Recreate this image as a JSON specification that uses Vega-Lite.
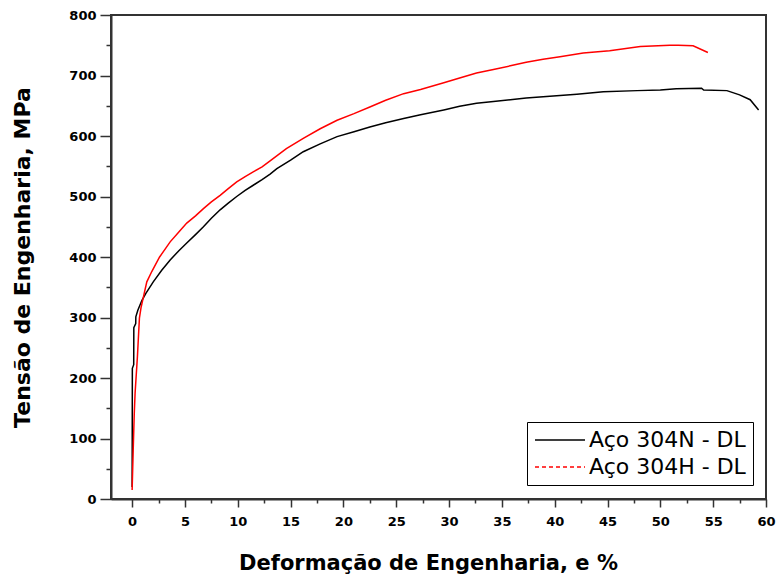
{
  "$schema": "https://vega.github.io/schema/vega-lite/v6.json",
  "width": 655,
  "height": 484,
  "autosize": "none",
  "padding": {"left": 111, "top": 15, "right": 10, "bottom": 80},
  "background": "white",
  "config": {
    "view": {"stroke": "#333", "strokeWidth": 2},
    "axis": {
      "domainColor": "#333",
      "domainWidth": 2,
      "tickColor": "#333",
      "tickWidth": 1.5,
      "grid": false,
      "labelFont": "DejaVu Sans",
      "labelFontWeight": "bold",
      "labelFontSize": 13,
      "labelColor": "#000",
      "titleFont": "DejaVu Sans",
      "titleFontWeight": "bold",
      "titleColor": "#000"
    }
  },
  "data": {
    "values": [
      {"e": 0.0, "s": 20, "series": "Aço 304N - DL"},
      {"e": 0.01, "s": 100, "series": "Aço 304N - DL"},
      {"e": 0.02, "s": 216, "series": "Aço 304N - DL"},
      {"e": 0.15, "s": 222, "series": "Aço 304N - DL"},
      {"e": 0.16, "s": 283, "series": "Aço 304N - DL"},
      {"e": 0.34, "s": 290, "series": "Aço 304N - DL"},
      {"e": 0.35, "s": 301, "series": "Aço 304N - DL"},
      {"e": 0.54, "s": 312, "series": "Aço 304N - DL"},
      {"e": 0.92, "s": 328, "series": "Aço 304N - DL"},
      {"e": 1.3, "s": 340, "series": "Aço 304N - DL"},
      {"e": 2.0, "s": 359, "series": "Aço 304N - DL"},
      {"e": 2.8, "s": 378, "series": "Aço 304N - DL"},
      {"e": 3.6, "s": 395, "series": "Aço 304N - DL"},
      {"e": 4.4, "s": 410, "series": "Aço 304N - DL"},
      {"e": 5.17, "s": 423, "series": "Aço 304N - DL"},
      {"e": 6.0, "s": 437, "series": "Aço 304N - DL"},
      {"e": 6.75, "s": 450, "series": "Aço 304N - DL"},
      {"e": 7.5, "s": 464, "series": "Aço 304N - DL"},
      {"e": 8.33, "s": 478, "series": "Aço 304N - DL"},
      {"e": 9.1, "s": 489, "series": "Aço 304N - DL"},
      {"e": 9.9, "s": 500, "series": "Aço 304N - DL"},
      {"e": 10.7, "s": 510, "series": "Aço 304N - DL"},
      {"e": 11.5, "s": 519, "series": "Aço 304N - DL"},
      {"e": 12.3, "s": 528, "series": "Aço 304N - DL"},
      {"e": 13.06, "s": 537, "series": "Aço 304N - DL"},
      {"e": 13.7, "s": 546, "series": "Aço 304N - DL"},
      {"e": 15.0, "s": 560, "series": "Aço 304N - DL"},
      {"e": 16.2, "s": 574, "series": "Aço 304N - DL"},
      {"e": 17.8, "s": 587, "series": "Aço 304N - DL"},
      {"e": 19.4, "s": 599, "series": "Aço 304N - DL"},
      {"e": 21.0, "s": 607, "series": "Aço 304N - DL"},
      {"e": 22.5, "s": 615, "series": "Aço 304N - DL"},
      {"e": 24.0, "s": 622, "series": "Aço 304N - DL"},
      {"e": 25.7, "s": 629, "series": "Aço 304N - DL"},
      {"e": 27.3, "s": 635, "series": "Aço 304N - DL"},
      {"e": 29.5, "s": 643, "series": "Aço 304N - DL"},
      {"e": 31.0, "s": 649, "series": "Aço 304N - DL"},
      {"e": 32.6, "s": 654, "series": "Aço 304N - DL"},
      {"e": 34.2, "s": 657, "series": "Aço 304N - DL"},
      {"e": 35.8, "s": 660, "series": "Aço 304N - DL"},
      {"e": 37.3, "s": 663, "series": "Aço 304N - DL"},
      {"e": 38.9, "s": 665, "series": "Aço 304N - DL"},
      {"e": 40.5, "s": 667, "series": "Aço 304N - DL"},
      {"e": 42.1, "s": 669, "series": "Aço 304N - DL"},
      {"e": 44.6, "s": 673, "series": "Aço 304N - DL"},
      {"e": 47.8, "s": 675, "series": "Aço 304N - DL"},
      {"e": 50.0, "s": 676, "series": "Aço 304N - DL"},
      {"e": 51.5, "s": 678, "series": "Aço 304N - DL"},
      {"e": 53.9, "s": 679, "series": "Aço 304N - DL"},
      {"e": 54.1, "s": 676, "series": "Aço 304N - DL"},
      {"e": 56.3, "s": 675, "series": "Aço 304N - DL"},
      {"e": 57.5, "s": 668, "series": "Aço 304N - DL"},
      {"e": 58.5, "s": 660, "series": "Aço 304N - DL"},
      {"e": 59.3, "s": 643, "series": "Aço 304N - DL"},
      {"e": 0.0, "s": 15, "series": "Aço 304H - DL"},
      {"e": 0.1, "s": 80, "series": "Aço 304H - DL"},
      {"e": 0.2, "s": 140, "series": "Aço 304H - DL"},
      {"e": 0.28, "s": 175, "series": "Aço 304H - DL"},
      {"e": 0.5, "s": 235, "series": "Aço 304H - DL"},
      {"e": 0.69, "s": 299, "series": "Aço 304H - DL"},
      {"e": 0.85, "s": 317, "series": "Aço 304H - DL"},
      {"e": 1.07, "s": 334, "series": "Aço 304H - DL"},
      {"e": 1.39, "s": 359, "series": "Aço 304H - DL"},
      {"e": 1.86, "s": 376, "series": "Aço 304H - DL"},
      {"e": 2.6, "s": 400, "series": "Aço 304H - DL"},
      {"e": 3.6, "s": 425, "series": "Aço 304H - DL"},
      {"e": 4.4, "s": 441, "series": "Aço 304H - DL"},
      {"e": 5.17, "s": 456, "series": "Aço 304H - DL"},
      {"e": 6.0, "s": 468, "series": "Aço 304H - DL"},
      {"e": 6.75, "s": 480, "series": "Aço 304H - DL"},
      {"e": 7.5, "s": 491, "series": "Aço 304H - DL"},
      {"e": 8.33, "s": 502, "series": "Aço 304H - DL"},
      {"e": 9.1, "s": 513, "series": "Aço 304H - DL"},
      {"e": 9.9, "s": 524, "series": "Aço 304H - DL"},
      {"e": 10.7, "s": 533, "series": "Aço 304H - DL"},
      {"e": 11.5, "s": 541, "series": "Aço 304H - DL"},
      {"e": 12.3, "s": 549, "series": "Aço 304H - DL"},
      {"e": 13.06, "s": 559, "series": "Aço 304H - DL"},
      {"e": 14.6, "s": 579, "series": "Aço 304H - DL"},
      {"e": 16.2, "s": 596, "series": "Aço 304H - DL"},
      {"e": 17.8, "s": 612, "series": "Aço 304H - DL"},
      {"e": 19.4, "s": 626, "series": "Aço 304H - DL"},
      {"e": 21.0, "s": 637, "series": "Aço 304H - DL"},
      {"e": 22.5, "s": 648, "series": "Aço 304H - DL"},
      {"e": 24.0, "s": 659, "series": "Aço 304H - DL"},
      {"e": 25.7, "s": 670, "series": "Aço 304H - DL"},
      {"e": 27.3, "s": 677, "series": "Aço 304H - DL"},
      {"e": 29.5, "s": 688, "series": "Aço 304H - DL"},
      {"e": 31.0, "s": 696, "series": "Aço 304H - DL"},
      {"e": 32.6, "s": 704, "series": "Aço 304H - DL"},
      {"e": 34.2, "s": 710, "series": "Aço 304H - DL"},
      {"e": 35.8, "s": 716, "series": "Aço 304H - DL"},
      {"e": 37.3, "s": 722, "series": "Aço 304H - DL"},
      {"e": 38.9, "s": 727, "series": "Aço 304H - DL"},
      {"e": 40.5, "s": 731, "series": "Aço 304H - DL"},
      {"e": 42.7, "s": 737, "series": "Aço 304H - DL"},
      {"e": 45.2, "s": 741, "series": "Aço 304H - DL"},
      {"e": 48.1, "s": 748, "series": "Aço 304H - DL"},
      {"e": 50.9, "s": 750, "series": "Aço 304H - DL"},
      {"e": 51.7, "s": 750, "series": "Aço 304H - DL"},
      {"e": 53.1, "s": 749, "series": "Aço 304H - DL"},
      {"e": 54.5, "s": 738, "series": "Aço 304H - DL"}
    ]
  },
  "mark": {"type": "line", "strokeWidth": 1.5, "clip": true},
  "encoding": {
    "x": {
      "field": "e",
      "type": "quantitative",
      "scale": {"domain": [-2, 60], "nice": false, "zero": false},
      "axis": {
        "values": [0, 2.5, 5, 7.5, 10, 12.5, 15, 17.5, 20, 22.5, 25, 27.5, 30, 32.5, 35, 37.5, 40, 42.5, 45, 47.5, 50, 52.5, 55, 57.5, 60],
        "labelExpr": "datum.value % 5 === 0 ? datum.label : ''",
        "tickSize": {"condition": {"test": "datum.value % 5 === 0", "value": 8}, "value": 4},
        "labelPadding": 8,
        "labelFlush": false,
        "labelOverlap": false,
        "title": "Deformação de Engenharia, e %",
        "titleFontSize": 21,
        "titleX": 317,
        "titleY": 64,
        "titleAlign": "center",
        "titleBaseline": "middle"
      }
    },
    "y": {
      "field": "s",
      "type": "quantitative",
      "scale": {"domain": [0, 800], "nice": false},
      "axis": {
        "values": [0, 50, 100, 150, 200, 250, 300, 350, 400, 450, 500, 550, 600, 650, 700, 750, 800],
        "labelExpr": "datum.value % 100 === 0 ? datum.label : ''",
        "tickSize": {"condition": {"test": "datum.value % 100 === 0", "value": 11}, "value": 5},
        "labelPadding": 4,
        "labelFlush": false,
        "labelOverlap": false,
        "title": "Tensão de Engenharia, MPa",
        "titleFontSize": 22,
        "titleAngle": -90,
        "titleX": -89,
        "titleY": 242,
        "titleAlign": "center",
        "titleBaseline": "middle"
      }
    },
    "color": {
      "field": "series",
      "type": "nominal",
      "scale": {"domain": ["Aço 304N - DL", "Aço 304H - DL"], "range": ["#000000", "#ff0000"]},
      "legend": {
        "title": null,
        "orient": "none",
        "legendX": 416,
        "legendY": 407,
        "strokeColor": "#000",
        "fillColor": "#fff",
        "padding": 7,
        "rowPadding": 5,
        "symbolType": "M-2.5,0H2.5",
        "symbolSize": 400,
        "symbolStrokeWidth": 1.5,
        "symbolOffset": 15,
        "labelOffset": 18,
        "labelFont": "DejaVu Sans",
        "labelFontSize": 22,
        "labelColor": "#000",
        "labelLimit": 300,
        "encode": {
          "symbols": {
            "update": {
              "strokeDash": {"signal": "datum.value === 'Aço 304H - DL' ? [4, 3] : [1, 0]"}
            }
          }
        }
      }
    }
  }
}
